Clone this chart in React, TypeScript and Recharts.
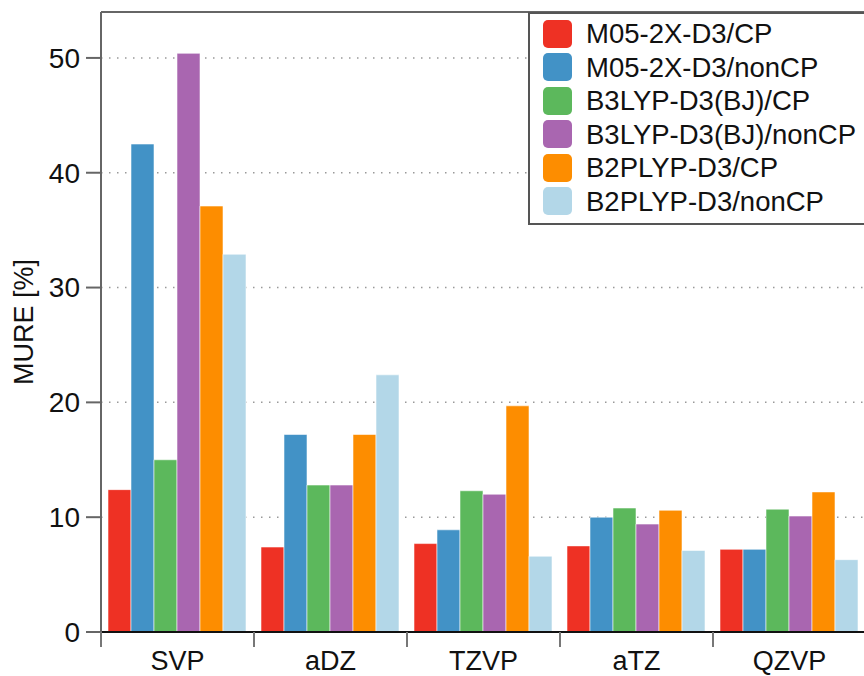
import React from 'react';
import { BarChart, Bar, XAxis, YAxis, CartesianGrid, ReferenceLine } from 'recharts';

const basisSets = ['SVP', 'aDZ', 'TZVP', 'aTZ', 'QZVP'];
const m052xCP = [12.4, 7.4, 7.7, 7.5, 7.2];
const m052xNonCP = [42.5, 17.2, 8.9, 10.0, 7.2];
const b3lypCP = [15.0, 12.8, 12.3, 10.8, 10.7];
const b3lypNonCP = [50.4, 12.8, 12.0, 9.4, 10.1];
const b2plypCP = [37.1, 17.2, 19.7, 10.6, 12.2];
const b2plypNonCP = [32.9, 22.4, 6.6, 7.1, 6.3];
const yTicks = [0, 10, 20, 30, 40, 50];

const series = [
  { key: 'M05-2X-D3/CP', values: m052xCP, color: '#ee3124' },
  { key: 'M05-2X-D3/nonCP', values: m052xNonCP, color: '#4292c6' },
  { key: 'B3LYP-D3(BJ)/CP', values: b3lypCP, color: '#5cb85c' },
  { key: 'B3LYP-D3(BJ)/nonCP', values: b3lypNonCP, color: '#a966b0' },
  { key: 'B2PLYP-D3/CP', values: b2plypCP, color: '#fd8d00' },
  { key: 'B2PLYP-D3/nonCP', values: b2plypNonCP, color: '#b3d7e8' },
];

const data = basisSets.map((name, i) => {
  const row: Record<string, string | number> = { name };
  series.forEach((s) => {
    row[s.key] = s.values[i];
  });
  return row;
});

const FONT = '"Liberation Sans", Arial, Helvetica, sans-serif';
const CHART_W = 870;
const CHART_H = 676;
const MARGIN = { top: 12, right: 4, left: 0, bottom: 0 };
const YAXIS_W = 101;
const BAND = (CHART_W - MARGIN.left - MARGIN.right - YAXIS_W) / basisSets.length;

const XTick = (props: any) => {
  const { x, y, payload } = props;
  const edge = x - BAND / 2;
  return (
    <g>
      <line x1={edge} y1={y} x2={edge} y2={y + 15} stroke="#777" strokeWidth={2} />
      <text x={x} y={y + 38} textAnchor="middle" fontSize={27} fontFamily={FONT} fill="#111">
        {payload.value}
      </text>
    </g>
  );
};

const YLabel = (props: any) => {
  const vb = props.viewBox || { x: 0, y: 12, height: 620 };
  const cx = 33;
  const cy = vb.y + vb.height / 2;
  return (
    <text
      x={cx}
      y={cy}
      transform={`rotate(-90, ${cx}, ${cy})`}
      textAnchor="middle"
      fontSize={27}
      fontFamily={FONT}
      fill="#111"
    >
      MURE [%]
    </text>
  );
};

const LegendBox = () => (
  <div
    style={{
      position: 'absolute',
      left: 528,
      top: 12,
      width: 345,
      height: 206,
      border: '2px solid #555',
      background: '#fff',
      padding: '3px 0 0 13px',
      fontFamily: FONT,
    }}
  >
    {series.map((s) => (
      <div key={s.key} style={{ display: 'flex', alignItems: 'center', height: 33.5 }}>
        <span
          style={{
            width: 29,
            height: 28,
            borderRadius: 5,
            background: s.color,
            display: 'inline-block',
            marginRight: 14,
            flexShrink: 0,
          }}
        />
        <span style={{ fontSize: 27.5, lineHeight: '33px', color: '#111', whiteSpace: 'nowrap' }}>
          {s.key}
        </span>
      </div>
    ))}
  </div>
);

export default function App() {
  return (
    <div
      style={{
        position: 'absolute',
        left: 0,
        top: 0,
        width: 864,
        height: 676,
        overflow: 'hidden',
        background: '#fff',
      }}
    >
      <BarChart
        width={CHART_W}
        height={CHART_H}
        data={data}
        margin={MARGIN}
        barCategoryGap={7}
        barGap={0}
      >
        <CartesianGrid
          horizontal
          vertical={false}
          stroke="#999"
          strokeDasharray="1.5 6.5"
          strokeWidth={1.5}
        />
        <ReferenceLine y={54} stroke="#666" strokeWidth={2} />
        <XAxis
          dataKey="name"
          height={44}
          axisLine={{ stroke: '#111', strokeWidth: 2 }}
          tickLine={false}
          tickSize={0}
          tickMargin={0}
          tick={<XTick />}
          interval={0}
        />
        <YAxis
          width={YAXIS_W}
          domain={[0, 54]}
          ticks={yTicks}
          allowDataOverflow
          axisLine={{ stroke: '#666', strokeWidth: 2 }}
          tickLine={{ stroke: '#666', strokeWidth: 2 }}
          tickSize={15}
          tickMargin={6}
          tick={{ fontSize: 28, fontFamily: FONT, fill: '#111' }}
          label={<YLabel />}
        />
        {series.map((s) => (
          <Bar
            key={s.key}
            dataKey={s.key}
            fill={s.color}
            stroke="rgba(255,255,255,0.55)"
            strokeWidth={1}
            isAnimationActive={false}
          />
        ))}
      </BarChart>
      <LegendBox />
    </div>
  );
}
